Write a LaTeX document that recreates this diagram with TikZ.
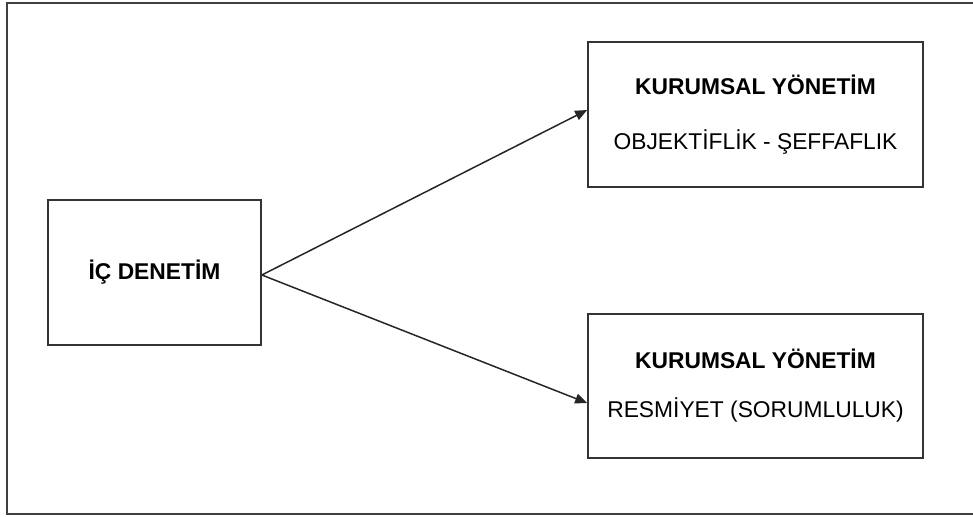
\documentclass[tikz,border=0pt]{standalone}
\usepackage{fontspec}
\setmainfont{Liberation Sans}
\usetikzlibrary{arrows.meta,positioning}
\tikzset{
  kutu/.style={draw=black!80, line width=1.7pt, minimum width=335pt, minimum height=145pt,
               align=center, inner sep=0pt, font=\fontsize{22.8}{27}\selectfont},
  ok/.style={-{Triangle[length=12pt,width=10pt]}, line width=1.5pt, draw=black!85},
}
\begin{document}
\begin{tikzpicture}[x=1pt,y=-1pt]
    \useasboundingbox (0,0) rectangle (973,516);
    % Dis cerceve (sag kenari kesik)
    \draw[black!75, line width=2pt] (7,3) rectangle (985,514);
    % Kutular
    \node[kutu, minimum width=213pt] (ic) at (154.5,272.5) {\bfseries İÇ DENETİM};
    \node[kutu] (ust) at (755.5,114.5)
      {\bfseries KURUMSAL YÖNETİM\\[28pt] OBJEKTİFLİK - ŞEFFAFLIK};
    \node[kutu, minimum height=144pt] (alt) at (755.5,386)
      {\bfseries KURUMSAL YÖNETİM\\[22pt] RESMİYET (SORUMLULUK)};
    % Oklar
    \coordinate (cikis) at ([yshift=-2.5pt]ic.east);
    \draw[ok] (cikis) -- ([yshift=4.5pt]ust.west);
    \draw[ok] (cikis) -- ([yshift=-17pt]alt.west);
\end{tikzpicture}
\end{document}
